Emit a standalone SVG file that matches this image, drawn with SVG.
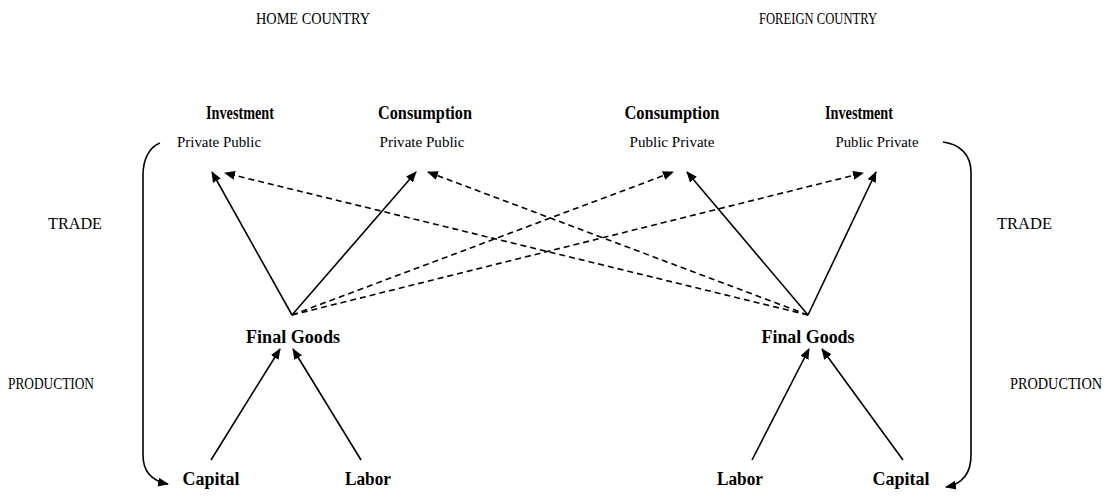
<svg xmlns="http://www.w3.org/2000/svg" width="1114" height="498" viewBox="0 0 1114 498">
<style>
text{font-family:"Liberation Serif","Times New Roman",serif;fill:#000}
.t{font-size:16px}
.s{font-size:15px}
.b{font-size:18px;font-weight:bold}
.ln{stroke:#000;stroke-width:1.6;fill:none}
.d{stroke-dasharray:6,4}
</style>
<defs>
<marker id="ah" markerWidth="11" markerHeight="9" refX="10" refY="4.5" orient="auto" markerUnits="userSpaceOnUse">
<path d="M0,0 L11,4.5 L0,9 Z" fill="#000"/>
</marker>
</defs>
<rect width="1114" height="498" fill="#fff"/>
<g id="titles">
<text class="t" x="313" y="24" text-anchor="middle" textLength="114" lengthAdjust="spacingAndGlyphs">HOME COUNTRY</text>
<text class="t" x="818" y="24" text-anchor="middle" textLength="118" lengthAdjust="spacingAndGlyphs">FOREIGN COUNTRY</text>
</g>
<g id="side-labels">
<text class="t" x="48" y="229" textLength="54" lengthAdjust="spacingAndGlyphs">TRADE</text>
<text class="t" x="997" y="229" textLength="55" lengthAdjust="spacingAndGlyphs">TRADE</text>
<text class="t" x="8" y="389" textLength="86" lengthAdjust="spacingAndGlyphs">PRODUCTION</text>
<text class="t" x="1010" y="389" textLength="92" lengthAdjust="spacingAndGlyphs">PRODUCTION</text>
</g>
<g id="home-investment">
<text class="b" x="240" y="119" text-anchor="middle" textLength="68" lengthAdjust="spacingAndGlyphs">Investment</text>
<text class="s" x="219" y="147" text-anchor="middle" textLength="84" lengthAdjust="spacingAndGlyphs">Private Public</text>
</g>
<g id="home-consumption">
<text class="b" x="425" y="119" text-anchor="middle" textLength="94" lengthAdjust="spacingAndGlyphs">Consumption</text>
<text class="s" x="422" y="147" text-anchor="middle" textLength="85" lengthAdjust="spacingAndGlyphs">Private Public</text>
</g>
<g id="foreign-consumption">
<text class="b" x="672" y="119" text-anchor="middle" textLength="95" lengthAdjust="spacingAndGlyphs">Consumption</text>
<text class="s" x="672" y="147" text-anchor="middle" textLength="85" lengthAdjust="spacingAndGlyphs">Public Private</text>
</g>
<g id="foreign-investment">
<text class="b" x="859" y="119" text-anchor="middle" textLength="68" lengthAdjust="spacingAndGlyphs">Investment</text>
<text class="s" x="877" y="147" text-anchor="middle" textLength="83" lengthAdjust="spacingAndGlyphs">Public Private</text>
</g>
<g id="home-final-goods">
<text class="b" x="293" y="343" text-anchor="middle" textLength="94" lengthAdjust="spacingAndGlyphs">Final Goods</text>
</g>
<g id="foreign-final-goods">
<text class="b" x="808" y="343" text-anchor="middle" textLength="93" lengthAdjust="spacingAndGlyphs">Final Goods</text>
</g>
<g id="home-capital">
<text class="b" x="211" y="485" text-anchor="middle" textLength="57" lengthAdjust="spacingAndGlyphs">Capital</text>
</g>
<g id="home-labor">
<text class="b" x="368" y="485" text-anchor="middle" textLength="46" lengthAdjust="spacingAndGlyphs">Labor</text>
</g>
<g id="foreign-labor">
<text class="b" x="740" y="485" text-anchor="middle" textLength="46" lengthAdjust="spacingAndGlyphs">Labor</text>
</g>
<g id="foreign-capital">
<text class="b" x="901" y="485" text-anchor="middle" textLength="57" lengthAdjust="spacingAndGlyphs">Capital</text>
</g>
<g id="connectors">
<path class="ln" d="M292,315 L212,172" marker-end="url(#ah)"/>
<path class="ln" d="M292,315 L416,172" marker-end="url(#ah)"/>
<path class="ln d" d="M292,315 L673,172" marker-end="url(#ah)"/>
<path class="ln d" d="M292,315 L863,173" marker-end="url(#ah)"/>
<path class="ln" d="M808,315 L687,172" marker-end="url(#ah)"/>
<path class="ln" d="M808,315 L876,172" marker-end="url(#ah)"/>
<path class="ln d" d="M808,315 L225,173" marker-end="url(#ah)"/>
<path class="ln d" d="M808,315 L428,172" marker-end="url(#ah)"/>
<path class="ln" d="M211,460 L280,349" marker-end="url(#ah)"/>
<path class="ln" d="M361,460 L293,349" marker-end="url(#ah)"/>
<path class="ln" d="M752,460 L809,349" marker-end="url(#ah)"/>
<path class="ln" d="M903,460 L822,349" marker-end="url(#ah)"/>
<path class="ln" d="M160,143 C149,147 143,160 143,175 L143,455 C143,472 152,481 168,484" marker-end="url(#ah)"/>
<path class="ln" d="M943,142 C960,144 971,155 971,172 L971,455 C971,473 962,484 946,487" marker-end="url(#ah)"/>
</g>
</svg>
